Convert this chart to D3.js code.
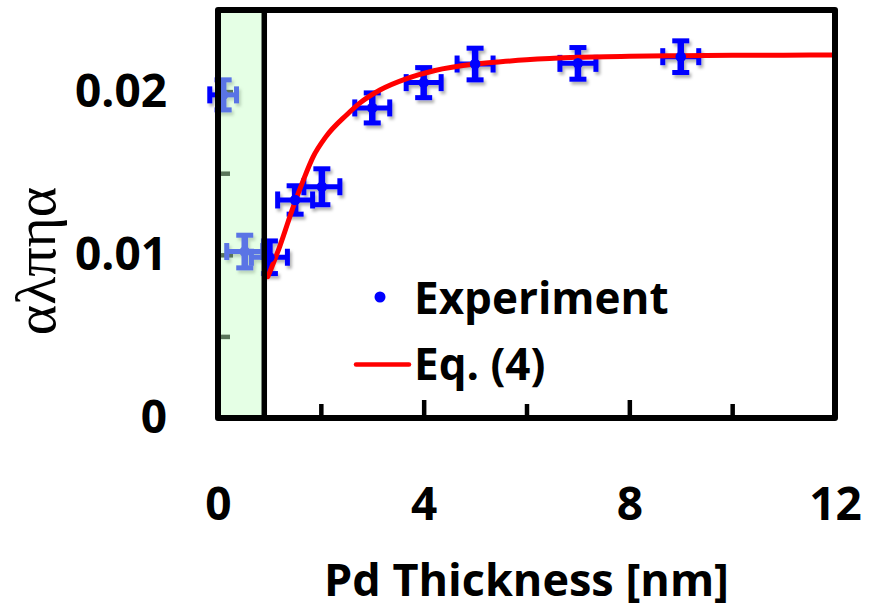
<!DOCTYPE html>
<html>
<head>
<meta charset="utf-8">
<script src="https://cdn.jsdelivr.net/npm/d3@7/dist/d3.min.js"></script>
<style>
  body { margin: 0; background: #fff; }
  svg { display: block; }
</style>
</head>
<body>
<svg id="chart" width="879" height="610"></svg>
<script>
// measured points (Pd thickness in nm, damping alpha)
var thickness = [0.1, 0.52, 1.0, 1.5, 2.02, 3.0, 4.0, 5.0, 7.0, 9.0];
var alphaVal = [0.0198, 0.0102, 0.00985, 0.01336, 0.01417, 0.0190, 0.02055, 0.02169, 0.02173, 0.02214];
var thicknessErr = [0.26, 0.35, 0.35, 0.34, 0.35, 0.34, 0.34, 0.35, 0.35, 0.35];
var alphaErr = [0.00092, 0.001, 0.001, 0.00087, 0.0011, 0.00092, 0.00092, 0.00097, 0.00097, 0.00097];

// Eq. (4) curve
var fitX = [0.97, 1.2, 1.47, 1.66, 1.85, 2.1, 2.5, 2.75, 3.15, 3.67, 4.2, 5.0, 5.5, 6.0, 7.0, 8.0, 9.0, 10.0, 11.0, 12.0];
var fitY = [0.00866, 0.0105, 0.0130, 0.01458, 0.0160, 0.01724, 0.01857, 0.01928, 0.0201, 0.0208, 0.02128, 0.02169, 0.02183, 0.02195, 0.0221, 0.02217, 0.0222, 0.02222, 0.02223, 0.02224];

var xMajor = [0, 4, 8, 12];
var xMinor = [2, 6, 10];
var yMajor = [0, 0.01, 0.02];
var yMinor = [0.005, 0.015];
var bandEdge = 0.9;

var margin = { top: 10, left: 218 };
var width = 617, height = 408;
var font = "'Open Sans', Lato, sans-serif";

var svg = d3.select("#chart");

var defs = svg.append("defs");
var shadow = defs.append("filter").attr("id", "shadow")
    .attr("x", "-20%").attr("y", "-20%").attr("width", "160%").attr("height", "160%");
shadow.append("feDropShadow")
    .attr("dx", 2).attr("dy", 3)
    .attr("stdDeviation", 1.6)
    .attr("flood-color", "#000")
    .attr("flood-opacity", 0.3);

var g = svg.append("g")
    .attr("transform", "translate(" + margin.left + "," + margin.top + ")");

var x = d3.scaleLinear().domain([0, 12]).range([0, width]);
var y = d3.scaleLinear().domain([0, 0.025]).range([height, 0]);

// y axis: labels + inward major ticks
var yAxis = g.append("g")
    .call(d3.axisLeft(y).tickValues(yMajor).tickSizeInner(-15).tickSizeOuter(0).tickPadding(51)
        .tickFormat(function(d) { return d === 0 ? "0" : d3.format(".2f")(d); }));
yAxis.select(".domain").remove();
yAxis.selectAll("line").attr("stroke", "#000").attr("stroke-width", 4.5);
yAxis.selectAll("text")
    .attr("font-family", font).attr("font-weight", "bold")
    .attr("font-size", "46px").attr("fill", "#000");

var yMinorAxis = g.append("g")
    .call(d3.axisLeft(y).tickValues(yMinor).tickSizeInner(-12).tickSizeOuter(0).tickFormat(""));
yMinorAxis.select(".domain").remove();
yMinorAxis.selectAll("line").attr("stroke", "#000").attr("stroke-width", 4.5);

// x axis
var xAxis = g.append("g")
    .attr("transform", "translate(0," + height + ")")
    .call(d3.axisBottom(x).tickValues(xMajor).tickSizeInner(-18).tickSizeOuter(0).tickPadding(69)
        .tickFormat(d3.format("d")));
xAxis.select(".domain").remove();
xAxis.selectAll("line").attr("stroke", "#000").attr("stroke-width", 4.5);
xAxis.selectAll("text")
    .attr("font-family", font).attr("font-weight", "bold")
    .attr("font-size", "46px").attr("fill", "#000");

var xMinorAxis = g.append("g")
    .attr("transform", "translate(0," + height + ")")
    .call(d3.axisBottom(x).tickValues(xMinor).tickSizeInner(-14).tickSizeOuter(0).tickFormat(""));
xMinorAxis.select(".domain").remove();
xMinorAxis.selectAll("line").attr("stroke", "#000").attr("stroke-width", 4.5);

// error bars
var bars = g.append("g").attr("filter", "url(#shadow)");
var cap = 8.5;
var blue = "#0000ff";

thickness.forEach(function(t, i) {
    var cx = x(t), cy = y(alphaVal[i]);
    var x0 = x(t - thicknessErr[i]), x1 = x(t + thicknessErr[i]);
    var y0 = y(alphaVal[i] - alphaErr[i]), y1 = y(alphaVal[i] + alphaErr[i]);
    var p = bars.append("g").attr("stroke", blue).attr("stroke-width", 5).attr("fill", "none");
    p.append("line").attr("x1", x0).attr("x2", x1).attr("y1", cy).attr("y2", cy);
    p.append("line").attr("x1", cx).attr("x2", cx).attr("y1", y0).attr("y2", y1).attr("stroke-width", 6.5);
    p.append("line").attr("x1", x0).attr("x2", x0).attr("y1", cy - cap).attr("y2", cy + cap);
    p.append("line").attr("x1", x1).attr("x2", x1).attr("y1", cy - cap).attr("y2", cy + cap);
    p.append("line").attr("x1", cx - cap).attr("x2", cx + cap).attr("y1", y0).attr("y2", y0);
    p.append("line").attr("x1", cx - cap).attr("x2", cx + cap).attr("y1", y1).attr("y2", y1);
});

// fitted curve
var line = d3.line()
    .x(function(d, i) { return x(fitX[i]); })
    .y(function(d) { return y(d); })
    .curve(d3.curveMonotoneX);

g.append("path")
    .attr("d", line(fitY))
    .attr("fill", "none")
    .attr("stroke", "#ff0000")
    .attr("stroke-width", 5)
    .attr("stroke-linecap", "round");

// experiment points
g.append("g").selectAll("circle")
    .data(thickness)
    .enter()
    .append("circle")
    .attr("cx", function(d) { return x(d); })
    .attr("cy", function(d, i) { return y(alphaVal[i]); })
    .attr("r", 5.3)
    .attr("fill", blue);

// shaded band over the thin-film region
g.append("rect")
    .attr("x", x(0))
    .attr("y", 0)
    .attr("width", x(bandEdge) - x(0))
    .attr("height", height)
    .attr("fill", "rgb(198,255,198)")
    .attr("fill-opacity", 0.455);

g.append("line")
    .attr("x1", x(bandEdge)).attr("x2", x(bandEdge))
    .attr("y1", 0).attr("y2", height)
    .attr("stroke", "#000").attr("stroke-width", 5.5);

// frame
g.append("rect")
    .attr("x", 0).attr("y", 0)
    .attr("width", width).attr("height", height)
    .attr("fill", "none")
    .attr("stroke", "#000")
    .attr("stroke-width", 6)
    .attr("stroke-linejoin", "round");

// legend
var legend = svg.append("g");
legend.append("circle").attr("cx", 380).attr("cy", 297).attr("r", 5.5).attr("fill", blue);
legend.append("text").attr("x", 414).attr("y", 314)
    .attr("font-family", font).attr("font-weight", "bold").attr("font-size", "44px")
    .text("Experiment");
legend.append("line").attr("x1", 356).attr("x2", 409).attr("y1", 364.5).attr("y2", 364.5)
    .attr("stroke", "#ff0000").attr("stroke-width", 4.5).attr("stroke-linecap", "round");
legend.append("text").attr("x", 414).attr("y", 380)
    .attr("font-family", font).attr("font-weight", "bold").attr("font-size", "44px")
    .text("Eq. (4)");

// axis titles
svg.append("text")
    .attr("x", margin.left + width / 2)
    .attr("y", 596)
    .attr("text-anchor", "middle")
    .attr("font-family", font).attr("font-weight", "bold").attr("font-size", "45px")
    .text("Pd Thickness [nm]");

svg.append("text")
    .attr("transform", "translate(55,261) rotate(-90)")
    .attr("text-anchor", "middle")
    .attr("font-family", "'Liberation Serif', serif")
    .attr("font-size", "58px")
    .text("αλπηα");
</script>
</body>
</html>
